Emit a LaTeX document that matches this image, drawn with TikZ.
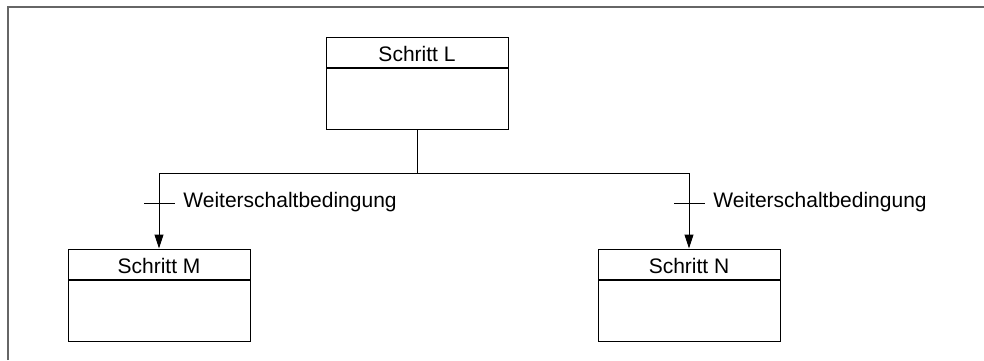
\documentclass[tikz,border=0pt]{standalone}
\usepackage{fontspec}
\setmainfont{Liberation Sans}
\usetikzlibrary{positioning,arrows.meta}

\begin{document}
\begin{tikzpicture}[
  x=0.5pt, y=-0.5pt,
  font=\fontsize{10.5}{12}\selectfont,
  stephead/.style={draw, line width=0.5pt, minimum width=91pt, minimum height=15pt,
                   inner sep=0pt, text height=9.5pt, text depth=0pt},
  stepbody/.style={draw, line width=0.5pt, minimum width=91pt, minimum height=30.5pt,
                   inner sep=0pt},
  cond/.style={anchor=west, inner sep=0pt},
  arr/.style={-{Triangle[length=7pt,width=4.5pt]}, line width=0.5pt},
  tick/.style={line width=0.5pt}
]
  \useasboundingbox (0,0) rectangle (984,360);

  % Frame (top and left only)
  \draw[black!60, line width=1pt] (8,360) -- (8,7) -- (984,7);

  % Steps
  \node[stephead] (Lh) at (417,52) {Schritt L};
  \node[stepbody, below=0pt of Lh] (Lb) {};

  \node[stephead] (Mh) at (159,264) {Schritt M};
  \node[stepbody, below=0pt of Mh] (Mb) {};

  \node[stephead] (Nh) at (689,264) {Schritt N};
  \node[stepbody, below=0pt of Nh] (Nb) {};

  % Branch
  \coordinate (fork) at (417,173);
  \draw[tick] (Lb) -- (fork);
  \draw[arr] (fork) -| (Mh);
  \draw[arr] (fork) -| (Nh);

  % Transitions
  \coordinate (tM) at (159,203);
  \coordinate (tN) at (689,203);
  \draw[tick] ([xshift=-7.5pt]tM) -- ([xshift=8pt]tM);
  \draw[tick] ([xshift=-7.5pt]tN) -- ([xshift=8pt]tN);
  \node[cond] (cM) at (183,202) {Weiterschaltbedingung};
  \node[cond] (cN) at (713,202) {Weiterschaltbedingung};
\end{tikzpicture}
\end{document}
